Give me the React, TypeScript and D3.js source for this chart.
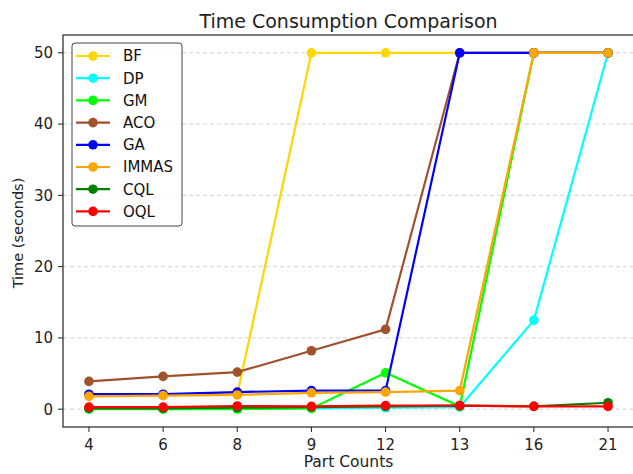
import React from "react";
import * as d3 from "d3";

const partCounts = ["4", "6", "8", "9", "12", "13", "16", "21"];
const yTicks = [0, 10, 20, 30, 40, 50];

const seriesNames = ["BF", "DP", "GM", "ACO", "GA", "IMMAS", "CQL", "OQL"];
const seriesColors = ["#ffd700", "#00ffff", "#00ff00", "#a0522d", "#0000ff", "#ffa500", "#008000", "#ff0000"];

const bf = [2.0, 2.0, 2.1, 50, 50, 50, 50, 50];
const dp = [0.1, 0.1, 0.1, 0.1, 0.2, 0.3, 12.5, 50];
const gm = [0.0, 0.0, 0.0, 0.1, 5.1, 0.4, 50, 50];
const aco = [3.9, 4.6, 5.2, 8.2, 11.2, 50, 50, 50];
const ga = [2.1, 2.1, 2.4, 2.6, 2.6, 50, 50, 50];
const immas = [1.8, 1.9, 2.0, 2.3, 2.4, 2.6, 50, 50];
const cql = [0.1, 0.1, 0.2, 0.3, 0.4, 0.5, 0.4, 0.9];
const oql = [0.3, 0.3, 0.45, 0.4, 0.5, 0.5, 0.4, 0.4];

const seriesValues = [bf, dp, gm, aco, ga, immas, cql, oql];

const W = 633;
const H = 474;
const left = 63;
const right = 634;
const top = 35;
const bottom = 427;

export default function App() {
  const x = d3.scaleLinear().domain([-0.35, partCounts.length - 1 + 0.35]).range([left, right]);
  const y = d3.scaleLinear().domain([-2.5, 52.5]).range([bottom, top]);
  const line = d3
    .line<number>()
    .x((_, i) => x(i))
    .y((d) => y(d));

  const font = "DejaVu Sans, sans-serif";

  return (
    <div style={{ position: "absolute", left: 0, top: 0 }}>
      <svg width={W} height={H} style={{ display: "block", background: "#fff" }} fontFamily={font}>
        {/* grid */}
        {yTicks.map((t) => (
          <line
            key={"g" + t}
            x1={left}
            x2={right}
            y1={y(t)}
            y2={y(t)}
            stroke="#cccccc"
            strokeWidth={0.9}
            strokeDasharray="4,3"
          />
        ))}

        {/* series */}
        {seriesValues.map((vals, s) => (
          <g key={seriesNames[s]}>
            <path d={line(vals) || ""} fill="none" stroke={seriesColors[s]} strokeWidth={2.2} />
            {vals.map((v, i) => (
              <circle key={i} cx={x(i)} cy={y(v)} r={4.8} fill={seriesColors[s]} />
            ))}
          </g>
        ))}

        {/* spines */}
        <rect x={left} y={top} width={right - left} height={bottom - top} fill="none" stroke="#222" strokeWidth={1.2} />

        {/* y axis */}
        {yTicks.map((t) => (
          <g key={"y" + t}>
            <line x1={left - 5} x2={left} y1={y(t)} y2={y(t)} stroke="#222" strokeWidth={1} />
            <text x={left - 10} y={y(t)} dy="0.36em" textAnchor="end" fontSize={15} fill="#222">
              {t}
            </text>
          </g>
        ))}

        {/* x axis */}
        {partCounts.map((c, i) => (
          <g key={"x" + c}>
            <line x1={x(i)} x2={x(i)} y1={bottom} y2={bottom + 5} stroke="#222" strokeWidth={1} />
            <text x={x(i)} y={bottom + 23} textAnchor="middle" fontSize={15} fill="#222">
              {c}
            </text>
          </g>
        ))}

        <text x={(left + right) / 2} y={467} textAnchor="middle" fontSize={15.5} fill="#222">
          Part Counts
        </text>
        <text
          transform={`translate(23, ${(top + bottom) / 2 + 2}) rotate(-90)`}
          textAnchor="middle"
          fontSize={14.5}
          fill="#222"
        >
          Time (seconds)
        </text>
        <text x={(left + right) / 2} y={28} textAnchor="middle" fontSize={19} fill="#222">
          Time Consumption Comparison
        </text>

        {/* legend */}
        <rect x={72} y={43} width={110} height={183} rx={3} fill="#fff" fillOpacity={0.8} stroke="#444" strokeWidth={1} />
        {seriesNames.map((n, i) => {
          const ly = 56 + i * 22.2;
          return (
            <g key={"l" + n}>
              <line x1={76} x2={110} y1={ly} y2={ly} stroke={seriesColors[i]} strokeWidth={2.2} />
              <circle cx={93} cy={ly} r={4.8} fill={seriesColors[i]} />
              <text x={123} y={ly} dy="0.36em" fontSize={15} fill="#111">
                {n}
              </text>
            </g>
          );
        })}
      </svg>
    </div>
  );
}
